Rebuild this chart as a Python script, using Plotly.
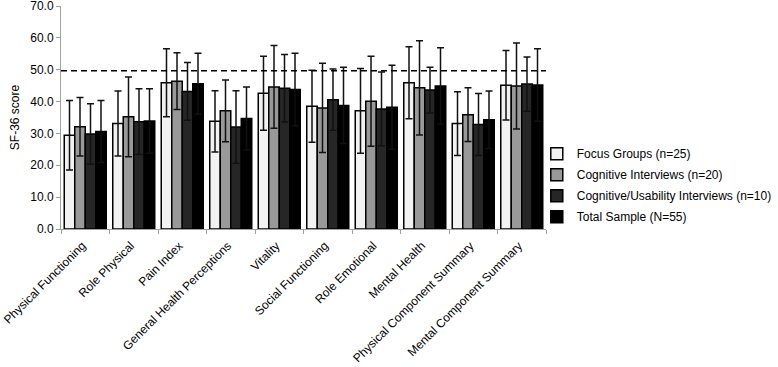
import plotly.graph_objects as go

categories = ["Physical Functioning", "Role Physical", "Pain Index", "General Health Perceptions",
              "Vitality", "Social Functioning", "Role Emotional", "Mental Health",
              "Physical Component Summary", "Mental Component Summary"]

series_names = ["Focus Groups (n=25)", "Cognitive Interviews (n=20)",
                "Cognitive/Usability Interviews (n=10)", "Total Sample (N=55)"]

focus_groups = [29.4, 33.1, 45.9, 33.8, 42.6, 38.5, 37.1, 45.9, 33.1, 45.1]
focus_groups_sd = [10.9, 10.2, 10.7, 9.6, 11.6, 11.3, 13.3, 11.3, 10.0, 10.9]

cognitive = [32.1, 35.2, 46.4, 37.1, 44.6, 38.0, 40.1, 44.3, 35.9, 44.9]
cognitive_sd = [9.2, 12.5, 8.9, 9.7, 13.0, 14.0, 14.1, 14.8, 8.4, 13.5]

usability = [29.8, 33.7, 43.2, 32.0, 44.2, 40.6, 37.7, 43.6, 32.8, 45.5]
usability_sd = [9.5, 10.3, 9.1, 11.4, 10.6, 9.6, 11.6, 7.2, 9.7, 8.5]

total = [30.6, 33.9, 45.6, 34.7, 43.8, 38.8, 38.2, 44.9, 34.3, 45.2]
total_sd = [9.7, 10.1, 9.6, 9.9, 11.4, 12.0, 13.2, 12.0, 9.0, 11.4]

norm_value = 49.7

values = [focus_groups, cognitive, usability, total]
sds = [focus_groups_sd, cognitive_sd, usability_sd, total_sd]
colors = ["#f2f2f2", "#999999", "#262626", "#000000"]

FONT = "Liberation Sans, Arial, Helvetica, sans-serif"

fig = go.Figure()
for i, (name, v, sd, c) in enumerate(zip(series_names, values, sds, colors)):
    fig.add_trace(go.Bar(
        x=categories, y=v, name=name, legendgroup=f"g{i}",
        marker=dict(color=c, line=dict(color="#000000", width=1.5)),
        error_y=dict(type="data", array=sd, visible=True, color="#111111",
                     thickness=1.5, width=3.5),
    ))

fig.add_shape(type="line", xref="paper", yref="y", x0=0, x1=1,
              y0=norm_value, y1=norm_value,
              line=dict(color="#000000", width=1.5, dash="6px,4px"))

fig.update_layout(
    width=778, height=367,
    margin=dict(l=61, r=232, t=6, b=138, autoexpand=False),
    paper_bgcolor="white", plot_bgcolor="white",
    barmode="group", bargap=0.134, bargroupgap=0,
    font=dict(family=FONT, size=12, color="#000000"),
    showlegend=True,
    legend=dict(x=0.981, xanchor="left", y=0.196, yanchor="middle",
                font=dict(family=FONT, size=12, color="#000000"),
                bgcolor="rgba(0,0,0,0)", itemwidth=30, tracegroupgap=2),
)
fig.update_yaxes(range=[0, 70], dtick=10, tickformat=".1f", automargin=False,
                 ticklabeloverflow="allow",
                 showgrid=False, zeroline=False,
                 showline=True, linecolor="#a0a0a0", linewidth=1,
                 ticks="outside", ticklen=4, tickcolor="#a0a0a0",
                 tickfont=dict(family=FONT, size=12, color="#000000"),
                 title=dict(text="SF-36 score", font=dict(family=FONT, size=12), standoff=8))
fig.update_xaxes(showgrid=False, showline=True, linecolor="#a0a0a0", linewidth=1,
                 automargin=False, ticklabeloverflow="allow",
                 ticks="outside", ticklen=4, tickcolor="#a0a0a0",
                 tickson="boundaries", tickangle=-45,
                 ticklabelstandoff=4, ticklabelshift=-3,
                 tickfont=dict(family=FONT, size=12, color="#000000"))

fig.write_html("out.html", post_script="document.body.style.margin='0';",
               config={"displayModeBar": False})
